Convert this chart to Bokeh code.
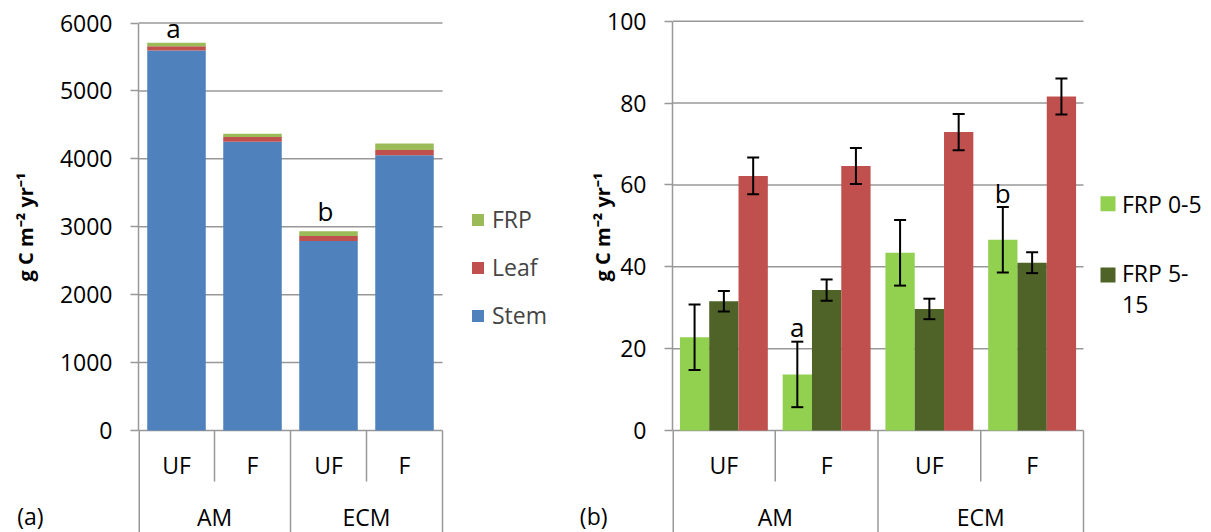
from bokeh.plotting import figure
from bokeh.models import (ColumnDataSource, Range1d, FixedTicker, Legend, LegendItem,
                          Whisker, TeeHead, LinearAxis)
from bokeh.layouts import row
from bokeh.embed import file_html
from bokeh.resources import INLINE
from bokeh.core.properties import value

# ---------------- data ----------------
treatments = ["UF", "F", "UF", "F"]
groups = ["AM", "ECM"]

# panel (a): stacked production
stem = [5596, 4253, 2790, 4051]
leaf_a = [63, 68, 73, 78]
frp_a = [52, 50, 70, 95]
yticks_a = [0, 1000, 2000, 3000, 4000, 5000, 6000]
letters_a = ["a", "", "b", ""]

# panel (b): fine-root and leaf production with standard errors
frp_0_5 = [22.8, 13.7, 43.4, 46.6]
frp_0_5_se = [8.0, 8.0, 8.0, 8.0]
frp_5_15 = [31.6, 34.3, 29.7, 41.0]
frp_5_15_se = [2.5, 2.6, 2.5, 2.55]
leaf_b = [62.2, 64.6, 72.9, 81.6]
leaf_b_se = [4.5, 4.4, 4.45, 4.4]
yticks_b = [0, 20, 40, 60, 80, 100]
letters_b = ["", "a", "", "b"]
legend_b = ["FRP 0-5", "FRP 5-\n15"]

# ---------------- style ----------------
H = 532
FONT = "Open Sans"
GRID = "#989898"
BLUE, RED, OLIVE = "#4F81BD", "#C0504D", "#9BBB59"
LGREEN, DGREEN = "#92D050", "#4F6228"
YLABEL = "g C m\u207b\u00b2 yr\u207b\u00b9"
FS = "23px"
LIFT_A = [15, 0, 20, 0]     # px gap between bar top and letter anchor
LIFT_B = [0, 15, 0, 14]


def label_axis(y, text, standoff, bold=False, vertical=False, size=FS):
    a = LinearAxis(ticker=FixedTicker(ticks=[y]), major_label_overrides={y: text},
                   axis_line_color=None, major_tick_line_color=None,
                   minor_tick_line_color=None, major_tick_out=0, major_tick_in=0,
                   major_label_standoff=standoff,
                   major_label_text_font=FONT, major_label_text_font_size=size,
                   major_label_text_color="black")
    if bold:
        a.major_label_text_font_style = "bold"
    if vertical:
        a.major_label_orientation = "vertical"
    return a


def make_panel(width, frame_left, cat_px, y0_px, ytop_px, yticks,
               title_standoff, tag, tag_standoff):
    ppu = (y0_px - ytop_px) / yticks[-1]
    frame_w = width - frame_left
    n = len(treatments)
    p = figure(width=width, height=H, output_backend="svg", toolbar_location=None,
               x_range=Range1d(0, frame_w / cat_px),
               y_range=Range1d(-(H - y0_px) / ppu, y0_px / ppu),
               x_axis_location=None,
               min_border_left=frame_left, min_border_right=0,
               min_border_top=0, min_border_bottom=0)
    p.outline_line_color = None
    p.grid.visible = False
    p.background_fill_color = "white"

    def yv(py):
        return (y0_px - py) / ppu

    ax = p.yaxis[0]
    ax.ticker = FixedTicker(ticks=yticks)
    ax.bounds = (0, yticks[-1])
    ax.axis_line_color = GRID
    ax.axis_line_width = 1.5
    ax.major_tick_line_color = GRID
    ax.major_tick_line_width = 1.5
    ax.major_tick_in = 0
    ax.major_tick_out = 8
    ax.minor_tick_line_color = None
    ax.major_label_text_font = FONT
    ax.major_label_text_font_size = FS
    ax.major_label_text_color = "black"
    ax.major_label_standoff = 18

    # y title centred on the plotting area, then the panel tag further left
    p.add_layout(label_axis(yv(226.5), YLABEL, title_standoff, bold=True,
                            vertical=True, size="20px"), "left")
    p.add_layout(label_axis(yv(516.7), tag, tag_standoff), "left")

    # horizontal gridlines
    p.segment(x0=[0] * len(yticks), x1=[n] * len(yticks), y0=yticks, y1=yticks,
              line_color=GRID, line_width=1.5)
    # category separators (two-level axis)
    inner = [1, 3]
    p.segment(x0=inner, x1=inner, y0=[0, 0], y1=[yv(481)] * 2,
              line_color=GRID, line_width=1.5)
    outer = [2, 4]
    p.segment(x0=outer, x1=outer, y0=[0, 0], y1=[yv(H)] * 2,
              line_color=GRID, line_width=1.5)
    p.segment(x0=[0], x1=[0], y0=[0], y1=[yv(H)], line_color=GRID, line_width=3)

    # category labels
    p.text(x=[i + 0.5 for i in range(n)], y=[yv(464.5)] * n, text=treatments,
           text_font=value(FONT), text_font_size=value(FS),
           text_align="center", text_baseline="middle", text_color="black")
    p.text(x=[1, 3], y=[yv(516.7)] * 2, text=groups,
           text_font=value(FONT), text_font_size=value(FS),
           text_align="center", text_baseline="middle", text_color="black")
    return p, yv, ppu


# ---------------- panel (a) ----------------
pa, yva, ppua = make_panel(575, 138, 76.0, 430.0, 22.5, yticks_a, 18, "(a)", -35)
xa = [i + 0.5 for i in range(len(treatments))]
src_a = ColumnDataSource(dict(x=xa, stem=stem, leaf=leaf_a, frp=frp_a))
rs = pa.vbar_stack(["stem", "leaf", "frp"], x="x", width=0.77, source=src_a,
                   fill_color=[BLUE, RED, OLIVE], line_color=None)
tot_a = [s + l + f for s, l, f in zip(stem, leaf_a, frp_a)]
ia = [i for i, t in enumerate(letters_a) if t]
pa.text(x=[xa[i] - 3 / 76.0 for i in ia], y=[tot_a[i] + LIFT_A[i] / ppua for i in ia],
        text=[letters_a[i] for i in ia],
        text_font=value(FONT), text_font_size=value("26px"), text_align="center",
        text_baseline="alphabetic", text_color="black")
leg_a = Legend(items=[LegendItem(label="FRP", renderers=[rs[2]]),
                      LegendItem(label="Leaf", renderers=[rs[1]]),
                      LegendItem(label="Stem", renderers=[rs[0]])],
               location=(332, 201), orientation="vertical",
               glyph_width=15, glyph_height=15, label_height=30, spacing=16,
               label_standoff=7, padding=0, margin=0,
               label_text_font=FONT, label_text_font_size=FS,
               border_line_color=None, background_fill_alpha=0)
pa.add_layout(leg_a)

# ---------------- panel (b) ----------------
CATB = 102.75
pb, yvb, ppub = make_panel(636, 97, CATB, 430.0, 20.7, yticks_b, -11, "(b)", -22)
bw = 29.3 / CATB
series = [(frp_0_5, frp_0_5_se, LGREEN, -1), (frp_5_15, frp_5_15_se, DGREEN, 0),
          (leaf_b, leaf_b_se, RED, 1)]
for vals, se, col, k in series:
    xs = [i + 0.5 + k * bw for i in range(len(vals))]
    src = ColumnDataSource(dict(x=xs, top=vals,
                                upper=[v + e for v, e in zip(vals, se)],
                                lower=[v - e for v, e in zip(vals, se)]))
    pb.vbar(x="x", top="top", bottom=0, width=bw, source=src,
            fill_color=col, line_color=None)
    w = Whisker(source=src, base="x", upper="upper", lower="lower",
                line_color="black", line_width=2, level="annotation",
                upper_head=TeeHead(size=12, line_width=2, line_color="black"),
                lower_head=TeeHead(size=12, line_width=2, line_color="black"))
    pb.add_layout(w)

ib = [i for i, t in enumerate(letters_b) if t]
pb.text(x=[i + 0.5 - bw for i in ib],
        y=[frp_0_5[i] + frp_0_5_se[i] + LIFT_B[i] / ppub for i in ib],
        text=[letters_b[i] for i in ib],
        text_font=value(FONT), text_font_size=value("26px"), text_align="center",
        text_baseline="alphabetic", text_color="black")

# legend of panel (b): keys aligned with the first line of each entry
key_x_px = 1107.5 - 575 - 97
key_y_px = [203.3, 274.5]
lab_y_px = [203.3, 288.0]
pb.scatter(x=[key_x_px / CATB] * 2, y=[yvb(v) for v in key_y_px], marker="square",
           size=15, fill_color=[LGREEN, DGREEN], line_color=None)
pb.text(x=[(1121.5 - 575 - 97) / CATB] * 2, y=[yvb(v) for v in lab_y_px], text=legend_b,
        text_font=value(FONT), text_font_size=value(FS), text_align="left",
        text_baseline="middle", text_line_height=0.97, text_color="black")

layout = row(pa, pb)
open("out.html", "w").write(file_html(layout, INLINE))
